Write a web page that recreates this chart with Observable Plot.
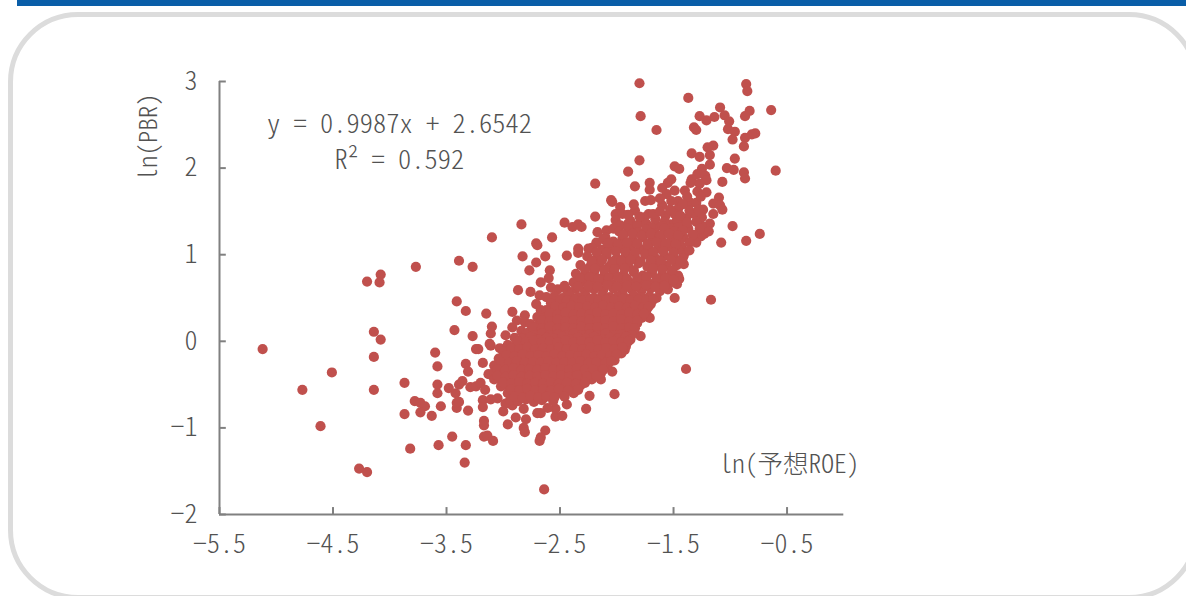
<!DOCTYPE html>
<html><head><meta charset="utf-8">
<script src="https://cdn.jsdelivr.net/npm/d3@7"></script>
<script src="https://cdn.jsdelivr.net/npm/@observablehq/plot@0.6"></script>
<style>
html,body{margin:0;padding:0;width:1186px;height:596px;overflow:hidden;background:#fff}
#bar{position:absolute;left:17px;top:0;width:1169px;height:6px;background:#0a5ea8}
#panel{position:absolute;left:8px;top:12px;width:1191px;height:588px;border:5px solid #dcdcdc;border-radius:70px;box-sizing:border-box}
#chart{position:absolute;left:0;top:0}
svg text{font-family:"Noto Sans CJK JP",sans-serif;font-feature-settings:"hwid";fill:#525252;font-weight:300}
</style></head><body>
<div id="bar"></div><div id="panel"></div><div id="chart"></div>
<script>
const xTicks=[-5.5,-4.5,-3.5,-2.5,-1.5,-0.5];
const yTicks=[-2,-1,0,1,2,3];
const equation="y = 0.9987x + 2.6542";
const rSquared="R² = 0.592";
const xTitle="ln(予想ROE)";
const yTitle="ln(PBR)";

const outliersLeft=[[-5.12,-0.09],[-4.51,-0.36],[-4.77,-0.56],[-4.61,-0.98],[-4.27,-1.47],[-4.20,-1.51],[-4.08,0.77],[-4.09,0.68],[-4.20,0.69],[-3.77,0.86],[-3.39,0.93],[-3.27,0.86],[-3.41,0.46],[-3.33,0.35],[-3.43,0.13],[-3.27,0.06],[-4.14,0.11],[-4.08,0.02],[-4.14,-0.18],[-4.14,-0.56],[-3.60,-0.13],[-3.58,-0.29]];
const lowerLeft=[[-3.24,-0.09],[-3.22,-0.09],[-3.33,-0.26],[-3.31,-0.35],[-3.87,-0.48],[-3.58,-0.50],[-3.58,-0.60],[-3.48,-0.54],[-3.42,-0.60],[-3.39,-0.50],[-3.36,-0.46],[-3.29,-0.53],[-3.24,-0.52],[-3.20,-0.48],[-3.78,-0.69],[-3.73,-0.71],[-3.69,-0.75],[-3.73,-0.82],[-3.87,-0.84],[-3.63,-0.86],[-3.55,-0.75],[-3.41,-0.77],[-3.41,-0.71],[-3.39,-0.70],[-3.31,-0.80],[-3.82,-1.24],[-3.57,-1.20],[-3.45,-1.10],[-3.33,-1.20],[-3.34,-1.40],[-3.18,-0.25],[-3.11,-0.05],[-3.13,-0.38],[-3.16,-0.56],[-3.18,-0.68],[-3.18,-0.76],[-3.11,-0.67],[-3.05,-0.66],[-3.17,-0.92],[-3.17,-0.97],[-3.17,-1.10],[-3.14,-1.09],[-3.09,-1.15]];
const lowerEdge=[[-2.96,-0.96],[-2.89,-0.88],[-3.00,-0.81],[-2.80,-0.90],[-2.82,-1.00],[-2.81,-1.05],[-2.70,-0.83],[-2.67,-0.83],[-2.63,-1.03],[-2.67,-1.11],[-2.68,-1.15],[-2.64,-1.71],[-2.54,-0.87],[-2.48,-0.86],[-2.54,-0.78],[-2.61,-0.77],[-2.44,-0.73],[-2.27,-0.78],[-2.24,-0.63],[-2.79,-0.65],[-2.65,-0.66],[-2.82,-0.78],[-2.92,-0.74],[-2.98,-0.72],[-2.88,-0.68],[-2.65,-0.65],[-2.36,-0.55],[-2.29,-0.45],[-2.24,-0.34],[-2.02,-0.61],[-2.14,-0.44],[-2.04,-0.35],[-1.93,-0.10],[-1.90,0.00],[-1.79,0.06],[-1.71,0.27],[-1.49,0.50],[-1.17,0.48],[-1.39,-0.32]];
const upperEdge=[[-2.84,1.35],[-3.10,1.20],[-2.71,1.13],[-2.70,1.11],[-2.57,1.20],[-2.46,1.37],[-2.39,1.32],[-2.34,1.35],[-2.31,1.32],[-2.83,0.98],[-2.63,0.98],[-2.71,0.91],[-2.77,0.82],[-2.59,0.82],[-2.60,0.73],[-2.67,0.68],[-2.87,0.59],[-2.76,0.57],[-2.58,0.62],[-2.68,0.53],[-3.15,0.32],[-2.92,0.34],[-3.10,0.17],[-3.11,0.09],[-3.12,-0.03],[-2.71,0.43],[-2.81,0.30],[-2.81,0.22],[-2.88,0.24],[-2.98,0.07],[-2.92,0.16],[-3.03,-0.08],[-2.62,0.51],[-2.67,0.36],[-2.56,0.39],[-2.44,0.99],[-2.34,1.07],[-2.34,1.02],[-2.25,1.07],[-2.17,1.26],[-2.09,1.28],[-2.19,1.44],[-2.05,1.63],[-2.04,1.61],[-2.19,1.82],[-1.84,1.79],[-1.71,1.83],[-1.71,1.75],[-1.75,1.62],[-1.70,1.63],[-1.84,1.51],[-1.97,1.55],[-2.01,1.47],[-1.95,1.47],[-1.72,1.47],[-2.01,1.40],[-1.88,1.39],[-1.79,1.37]];
const upperTail=[[-1.80,2.98],[-1.79,2.60],[-1.65,2.44],[-1.37,2.81],[-0.86,2.97],[-0.85,2.89],[-0.64,2.67],[-0.83,2.66],[-0.87,2.60],[-1.09,2.70],[-1.05,2.61],[-1.01,2.54],[-1.14,2.59],[-1.21,2.55],[-1.27,2.60],[-1.32,2.47],[-1.30,2.44],[-1.02,2.45],[-0.96,2.42],[-0.98,2.33],[-0.78,2.40],[-0.81,2.39],[-0.87,2.35],[-0.88,2.25],[-1.15,2.26],[-1.20,2.24],[-1.18,2.15],[-1.34,2.17],[-1.27,2.13],[-0.96,2.11],[-1.18,2.04],[-1.03,2.00],[-0.97,1.98],[-0.88,1.95],[-0.87,1.88],[-0.60,1.97],[-1.07,1.84],[-1.80,2.09],[-1.90,1.96],[-1.49,2.02],[-1.45,1.99],[-1.52,1.87],[-1.55,1.83],[-1.60,1.77],[-1.25,1.99],[-1.29,1.93],[-1.34,1.87],[-1.22,1.91],[-1.21,1.86],[-1.35,1.83],[-1.27,1.82],[-1.40,1.74],[-1.49,1.74],[-1.56,1.70],[-1.29,1.73],[-1.21,1.72],[-1.10,1.66],[-1.15,1.59],[-1.09,1.57],[-1.07,1.52],[-1.15,1.47],[-1.18,1.36],[-1.24,1.52],[-1.25,1.33],[-0.98,1.33],[-1.26,1.21],[-1.30,1.14],[-1.08,1.14],[-0.86,1.16],[-0.74,1.24],[-1.46,1.62],[-1.60,1.57],[-1.57,1.45],[-1.46,1.53],[-1.35,1.60],[-1.30,1.60],[-1.32,1.47],[-1.37,1.30],[-1.43,1.35],[-1.41,1.20],[-1.43,1.09],[-1.41,1.01],[-1.53,1.35],[-1.65,1.33],[-1.76,1.43],[-1.45,0.72],[-1.41,0.89],[-1.41,0.99],[-1.23,1.24],[-1.19,1.27],[-1.66,1.41],[-1.58,1.38],[-1.39,1.42],[-1.36,1.51],[-1.25,1.43],[-1.49,1.47],[-1.85,1.32],[-1.47,1.40],[-1.26,1.67],[-1.38,1.67]];
const upperDense=[[-1.97,1.34],[-1.90,1.36],[-1.82,1.34],[-1.74,1.36],[-1.70,1.32],[-1.60,1.33],[-1.52,1.30],[-1.46,1.32],[-1.90,1.46],[-1.80,1.44],[-1.68,1.47],[-1.62,1.50],[-1.53,1.52],[-1.44,1.45],[-1.38,1.37],[-1.30,1.38],[-1.27,1.30],[-1.33,1.23],[-1.36,1.14],[-1.36,1.05],[-1.85,1.58],[-1.62,1.65],[-1.52,1.62],[-1.42,1.58],[-1.28,1.52],[-2.03,1.30],[-2.10,1.20],[-2.18,1.14]];
const upperBand=[[-1.98,1.27],[-1.90,1.30],[-1.81,1.26],[-1.74,1.29],[-1.66,1.25],[-1.58,1.30],[-1.49,1.27],[-1.42,1.28],
[-2.12,1.18],[-2.03,1.15],[-1.95,1.19],[-1.86,1.17],[-1.77,1.20],[-1.69,1.16],[-1.61,1.19],[-1.52,1.17],[-1.44,1.18],
[-2.22,1.08],[-2.13,1.06],[-2.05,1.09],[-1.96,1.07],[-1.88,1.10],[-1.79,1.06],[-1.72,1.09],[-1.63,1.07],[-1.54,1.10],[-1.46,1.06],
[-2.26,0.98],[-2.17,0.97],[-2.09,1.00],[-2.00,0.96],[-1.92,0.99],[-1.84,0.97],[-1.75,1.00],[-1.66,0.96],[-1.58,0.99],[-1.50,0.97],[-1.42,0.96],
[-2.32,0.88],[-2.23,0.87],[-2.15,0.90],[-2.07,0.86],[-1.98,0.89],[-1.90,0.87],[-1.81,0.90],[-1.73,0.86],[-1.64,0.89],[-1.56,0.87],[-1.47,0.88],
[-2.36,0.78],[-2.28,0.77],[-2.20,0.80],[-2.11,0.76],[-2.03,0.79],[-1.94,0.77],[-1.85,0.80],[-1.77,0.76],[-1.69,0.79],[-1.60,0.77],[-1.52,0.78],[-1.46,0.76],
[-2.38,0.68],[-2.30,0.69],[-2.21,0.67],[-2.13,0.70],[-2.04,0.66],[-1.96,0.69],[-1.87,0.67],[-1.79,0.70],[-1.70,0.66],[-1.62,0.69],[-1.54,0.67],[-1.47,0.66],
[-2.52,0.60],[-2.44,0.59],[-2.36,0.61],[-2.28,0.58],[-2.20,0.60],[-2.12,0.59],[-2.03,0.61],[-1.95,0.58],[-1.87,0.60],[-1.78,0.59],[-1.70,0.61],[-1.62,0.58],[-1.55,0.60]];
const upperFill=[[-1.94,1.23],[-1.86,1.24],[-1.78,1.22],[-1.70,1.24],[-1.62,1.22],[-1.54,1.24],[-1.46,1.22],
[-2.08,1.13],[-1.99,1.12],[-1.91,1.14],[-1.82,1.13],[-1.73,1.12],[-1.65,1.14],[-1.57,1.13],[-1.48,1.12],
[-2.18,1.03],[-2.09,1.02],[-2.01,1.04],[-1.92,1.03],[-1.84,1.02],[-1.68,1.03],[-1.59,1.04],[-1.50,1.02],
[-2.22,0.93],[-2.13,0.94],[-2.04,0.92],[-1.96,0.93],[-1.88,0.94],[-1.79,0.92],[-1.70,0.93],[-1.61,0.92],[-1.52,0.94],[-1.44,0.92],
[-2.28,0.83],[-2.19,0.84],[-2.11,0.82],[-2.02,0.83],[-1.93,0.84],[-1.85,0.82],[-1.68,0.84],[-1.60,0.83],[-1.51,0.82],
[-2.32,0.73],[-2.24,0.74],[-2.16,0.72],[-2.07,0.73],[-1.99,0.74],[-1.91,0.72],[-1.82,0.73],[-1.74,0.74],[-1.65,0.72],[-1.57,0.73],[-1.50,0.71],
[-2.46,0.64],[-2.34,0.63],[-2.25,0.64],[-2.17,0.63],[-2.08,0.65],[-2.00,0.63],[-1.91,0.64],[-1.83,0.63],[-1.74,0.65],[-1.66,0.63],[-1.58,0.64]];
const coreUpper=[[-2.55,0.52],[-2.48,0.50],[-2.41,0.53],[-2.34,0.51],[-2.27,0.52],[-2.20,0.50],[-2.13,0.53],[-2.06,0.51],[-1.99,0.52],[-1.92,0.50],[-1.85,0.53],[-1.78,0.51],[-1.71,0.52],[-1.65,0.50],
[-2.58,0.44],[-2.51,0.43],[-2.44,0.45],[-2.37,0.42],[-2.30,0.44],[-2.23,0.43],[-2.16,0.45],[-2.09,0.42],[-2.02,0.44],[-1.95,0.43],[-1.88,0.45],[-1.81,0.42],[-1.74,0.44],[-1.70,0.43],
[-2.62,0.36],[-2.55,0.35],[-2.48,0.37],[-2.41,0.34],[-2.34,0.36],[-2.27,0.35],[-2.20,0.37],[-2.13,0.34],[-2.06,0.36],[-1.99,0.35],[-1.92,0.37],[-1.85,0.34],[-1.78,0.36],[-1.74,0.35],
[-2.70,0.28],[-2.63,0.27],[-2.56,0.29],[-2.49,0.26],[-2.42,0.28],[-2.35,0.27],[-2.28,0.29],[-2.21,0.26],[-2.14,0.28],[-2.07,0.27],[-2.00,0.29],[-1.93,0.26],[-1.86,0.28],[-1.78,0.27],
[-2.76,0.20],[-2.69,0.19],[-2.62,0.21],[-2.55,0.18],[-2.48,0.20],[-2.41,0.19],[-2.34,0.21],[-2.27,0.18],[-2.20,0.20],[-2.13,0.19],[-2.06,0.21],[-1.99,0.18],[-1.92,0.20],[-1.86,0.19],[-1.82,0.21],
[-2.84,0.12],[-2.77,0.11],[-2.70,0.13],[-2.63,0.10],[-2.56,0.12],[-2.49,0.11],[-2.42,0.13],[-2.35,0.10],[-2.28,0.12],[-2.21,0.11],[-2.14,0.13],[-2.07,0.10],[-2.00,0.12],[-1.93,0.11],[-1.85,0.13]];
const coreUpperFill=[[-2.50,0.48],[-2.44,0.47],[-2.37,0.48],[-2.30,0.47],[-2.23,0.49],[-2.16,0.47],[-2.09,0.48],[-2.02,0.47],[-1.95,0.49],[-1.88,0.47],[-1.81,0.48],[-1.74,0.47],[-1.68,0.48],
[-2.54,0.40],[-2.47,0.39],[-2.40,0.41],[-2.33,0.39],[-2.26,0.40],[-2.19,0.39],[-2.12,0.41],[-2.05,0.39],[-1.98,0.40],[-1.91,0.39],[-1.84,0.41],[-1.77,0.39],[-1.72,0.40],
[-2.59,0.32],[-2.52,0.31],[-2.45,0.33],[-2.38,0.31],[-2.31,0.32],[-2.24,0.31],[-2.17,0.33],[-2.10,0.31],[-2.03,0.32],[-1.96,0.31],[-1.89,0.33],[-1.82,0.31],[-1.76,0.32],
[-2.66,0.24],[-2.59,0.23],[-2.52,0.25],[-2.45,0.23],[-2.38,0.24],[-2.31,0.23],[-2.24,0.25],[-2.17,0.23],[-2.10,0.24],[-2.03,0.23],[-1.96,0.25],[-1.89,0.23],[-1.82,0.24],
[-2.73,0.16],[-2.66,0.15],[-2.59,0.17],[-2.52,0.15],[-2.45,0.16],[-2.38,0.15],[-2.31,0.17],[-2.24,0.15],[-2.17,0.16],[-2.10,0.15],[-2.03,0.17],[-1.96,0.15],[-1.89,0.16],[-1.84,0.15],
[-2.80,0.08],[-2.73,0.07],[-2.66,0.09],[-2.59,0.07],[-2.52,0.08],[-2.45,0.07],[-2.38,0.09],[-2.31,0.07],[-2.24,0.08],[-2.17,0.07],[-2.10,0.09],[-2.03,0.07],[-1.96,0.08],[-1.87,0.07]];
const coreLower=[[-2.90,0.04],[-2.83,0.03],[-2.76,0.05],[-2.69,0.02],[-2.62,0.04],[-2.55,0.03],[-2.48,0.05],[-2.41,0.02],[-2.34,0.04],[-2.27,0.03],[-2.20,0.05],[-2.13,0.02],[-2.06,0.04],[-1.99,0.03],[-1.92,0.05],[-1.88,0.02],
[-2.96,-0.04],[-2.89,-0.05],[-2.82,-0.03],[-2.75,-0.06],[-2.68,-0.04],[-2.61,-0.05],[-2.54,-0.03],[-2.47,-0.06],[-2.40,-0.04],[-2.33,-0.05],[-2.26,-0.03],[-2.19,-0.06],[-2.12,-0.04],[-2.05,-0.05],[-1.98,-0.03],[-1.92,-0.06],
[-3.00,-0.12],[-2.93,-0.13],[-2.86,-0.11],[-2.79,-0.14],[-2.72,-0.12],[-2.65,-0.13],[-2.58,-0.11],[-2.51,-0.14],[-2.44,-0.12],[-2.37,-0.13],[-2.30,-0.11],[-2.23,-0.14],[-2.16,-0.12],[-2.09,-0.13],[-2.02,-0.11],[-1.96,-0.14],
[-3.04,-0.20],[-2.97,-0.21],[-2.90,-0.19],[-2.83,-0.22],[-2.76,-0.20],[-2.69,-0.21],[-2.62,-0.19],[-2.55,-0.22],[-2.48,-0.20],[-2.41,-0.21],[-2.34,-0.19],[-2.27,-0.22],[-2.20,-0.20],[-2.13,-0.21],[-2.06,-0.19],[-2.02,-0.22],
[-3.08,-0.28],[-3.01,-0.29],[-2.94,-0.27],[-2.87,-0.30],[-2.80,-0.28],[-2.73,-0.29],[-2.66,-0.27],[-2.59,-0.30],[-2.52,-0.28],[-2.45,-0.29],[-2.38,-0.27],[-2.31,-0.30],[-2.24,-0.28],[-2.17,-0.29],[-2.08,-0.27],
[-3.08,-0.36],[-3.01,-0.37],[-2.94,-0.35],[-2.87,-0.38],[-2.80,-0.36],[-2.73,-0.37],[-2.66,-0.35],[-2.59,-0.38],[-2.52,-0.36],[-2.45,-0.37],[-2.38,-0.35],[-2.31,-0.38],[-2.24,-0.36],[-2.14,-0.37],
[-3.08,-0.44],[-3.01,-0.45],[-2.94,-0.43],[-2.87,-0.46],[-2.80,-0.44],[-2.73,-0.45],[-2.66,-0.43],[-2.59,-0.46],[-2.52,-0.44],[-2.45,-0.45],[-2.38,-0.43],[-2.30,-0.46],[-2.22,-0.44],
[-3.02,-0.52],[-2.95,-0.53],[-2.88,-0.51],[-2.81,-0.54],[-2.74,-0.52],[-2.67,-0.53],[-2.60,-0.51],[-2.53,-0.54],[-2.46,-0.52],[-2.39,-0.53],[-2.32,-0.51],
[-2.96,-0.60],[-2.89,-0.61],[-2.82,-0.59],[-2.75,-0.62],[-2.68,-0.60],[-2.61,-0.61],[-2.54,-0.59],[-2.47,-0.62],[-2.38,-0.60],
[-2.94,-0.68],[-2.87,-0.69],[-2.80,-0.67],[-2.73,-0.70],[-2.66,-0.68],[-2.56,-0.69]];
const coreLowerFill=[[-2.87,0.00],[-2.80,-0.01],[-2.73,0.01],[-2.66,-0.01],[-2.59,0.00],[-2.52,-0.01],[-2.45,0.01],[-2.38,-0.01],[-2.31,0.00],[-2.24,-0.01],[-2.17,0.01],[-2.10,-0.01],[-2.03,0.00],[-1.96,-0.01],[-1.90,0.00],
[-2.93,-0.08],[-2.86,-0.09],[-2.79,-0.07],[-2.72,-0.09],[-2.65,-0.08],[-2.58,-0.09],[-2.51,-0.07],[-2.44,-0.09],[-2.37,-0.08],[-2.30,-0.09],[-2.23,-0.07],[-2.16,-0.09],[-2.09,-0.08],[-2.02,-0.09],[-1.95,-0.07],
[-2.97,-0.16],[-2.90,-0.17],[-2.83,-0.15],[-2.76,-0.17],[-2.69,-0.16],[-2.62,-0.17],[-2.55,-0.15],[-2.48,-0.17],[-2.41,-0.16],[-2.34,-0.17],[-2.27,-0.15],[-2.20,-0.17],[-2.13,-0.16],[-2.06,-0.17],[-2.00,-0.15],
[-3.02,-0.24],[-2.95,-0.25],[-2.88,-0.23],[-2.81,-0.25],[-2.74,-0.24],[-2.67,-0.25],[-2.60,-0.23],[-2.53,-0.25],[-2.46,-0.24],[-2.39,-0.25],[-2.32,-0.23],[-2.25,-0.25],[-2.18,-0.24],[-2.10,-0.25],[-2.05,-0.23],
[-3.05,-0.32],[-2.98,-0.33],[-2.91,-0.31],[-2.84,-0.33],[-2.77,-0.32],[-2.70,-0.33],[-2.63,-0.31],[-2.56,-0.33],[-2.49,-0.32],[-2.42,-0.33],[-2.35,-0.31],[-2.28,-0.33],[-2.21,-0.32],[-2.12,-0.33],
[-3.05,-0.40],[-2.98,-0.41],[-2.91,-0.39],[-2.84,-0.41],[-2.77,-0.40],[-2.70,-0.41],[-2.63,-0.39],[-2.56,-0.41],[-2.49,-0.40],[-2.42,-0.41],[-2.35,-0.39],[-2.26,-0.41],[-2.18,-0.40],
[-3.00,-0.48],[-2.93,-0.49],[-2.86,-0.47],[-2.79,-0.49],[-2.72,-0.48],[-2.65,-0.49],[-2.58,-0.47],[-2.51,-0.49],[-2.44,-0.48],[-2.36,-0.49],[-2.28,-0.48],
[-2.93,-0.56],[-2.86,-0.57],[-2.79,-0.55],[-2.72,-0.57],[-2.65,-0.56],[-2.58,-0.57],[-2.51,-0.55],[-2.43,-0.57],[-2.34,-0.56],
[-2.90,-0.64],[-2.83,-0.65],[-2.76,-0.63],[-2.69,-0.65],[-2.62,-0.64],[-2.55,-0.65],[-2.46,-0.64]];

const points=[...outliersLeft,...lowerLeft,...lowerEdge,...upperEdge,...upperTail,...upperDense,...upperBand,...upperFill,...coreUpper,...coreUpperFill,...coreLower,...coreLowerFill];
const grey="#808080";
const chart=Plot.plot({
  width:1186,height:596,
  marginLeft:219,marginRight:342.7,marginTop:81,marginBottom:82,
  style:{background:"transparent",overflow:"visible"},
  x:{domain:[-5.5,0]},
  y:{domain:[-2,3]},
  marks:[
    Plot.axisX(xTicks,{anchor:"bottom",tickSize:0,tickPadding:20,fontSize:26,label:null,tickFormat:d=>d.toFixed(1).replace("-","−")}),
    Plot.axisY(yTicks,{anchor:"left",tickSize:0,tickPadding:22,fontSize:26,label:null,tickFormat:d=>String(d).replace("-","−")}),
    Plot.ruleX([-5.5],{stroke:grey,strokeWidth:2}),
    Plot.ruleY([-2],{stroke:grey,strokeWidth:2}),
    Plot.ruleX(xTicks,{x:d=>d,y1:-2,y2:-1.92,stroke:grey,strokeWidth:2}),
    Plot.ruleY(yTicks,{y:d=>d,x1:-5.5,x2:-5.44,stroke:grey,strokeWidth:2}),
    Plot.dot(points,{x:d=>d[0],y:d=>d[1],r:5.1,fill:"#c0504d"}),
    Plot.text([equation],{x:-3.915,y:2.50,text:d=>d,fontSize:26.5}),
    Plot.text([rSquared],{x:-3.915,y:2.09,text:d=>d,fontSize:26.5}),
    Plot.text([xTitle],{x:-0.48,y:-1.43,text:d=>d,fontSize:25.5}),
    Plot.text([yTitle],{x:-6.12,y:2.36,text:d=>d,fontSize:25,rotate:-90})
  ]
});
document.getElementById("chart").append(chart);
</script></body></html>
